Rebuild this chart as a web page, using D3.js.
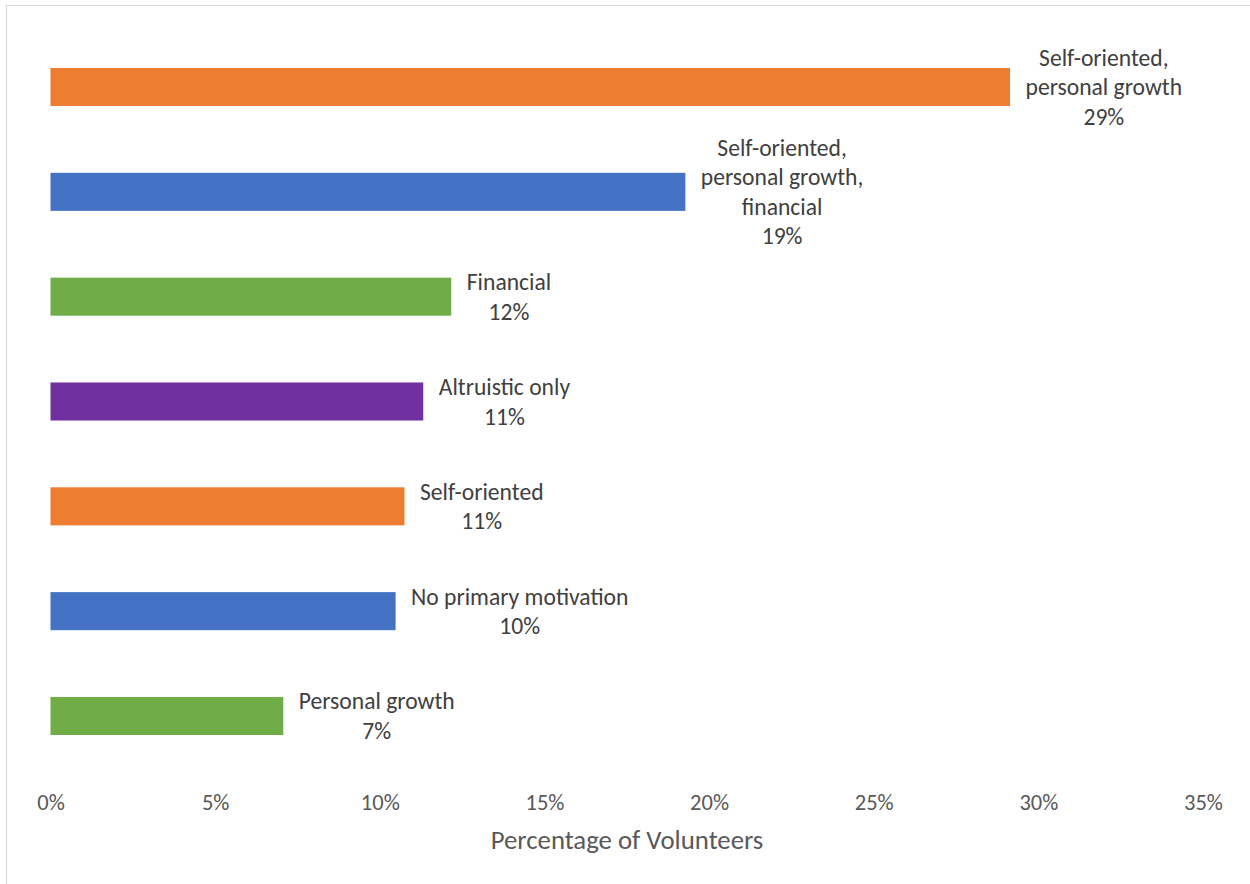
<!DOCTYPE html>
<html>
<head>
<meta charset="utf-8">
<script src="https://cdn.jsdelivr.net/npm/d3@7"></script>
<style>
  html, body { margin: 0; padding: 0; background: #fff; }
  svg { display: block; font-family: Carlito, Calibri, Lato, "Open Sans", sans-serif; }
</style>
</head>
<body>
<svg id="chart" width="1250" height="884"></svg>
<script>
// Motivation categories, top to bottom
const categories = [
  "Self-oriented,\npersonal growth",
  "Self-oriented,\npersonal growth,\nfinancial",
  "Financial",
  "Altruistic only",
  "Self-oriented",
  "No primary motivation",
  "Personal growth"
];
// Share of volunteers for each category
const shares = [0.2914, 0.1928, 0.1217, 0.1132, 0.1075, 0.1048, 0.0707];
const barColors = ["#ED7D31", "#4472C4", "#70AD47", "#7030A0", "#ED7D31", "#4472C4", "#70AD47"];
const tickValues = [0, 0.05, 0.10, 0.15, 0.20, 0.25, 0.30, 0.35];
const axisTitle = "Percentage of Volunteers";

const svg = d3.select("#chart");
const W = 1250, H = 884;

// Chart frame
svg.append("rect")
  .attr("x", 6.5).attr("y", 5.5)
  .attr("width", W + 10).attr("height", H + 10)
  .attr("fill", "#fff").attr("stroke", "#d9d9d9").attr("stroke-width", 1.2);

const x = d3.scaleLinear().domain([0, 0.35]).range([50.5, 1203]);
const y = d3.scaleBand()
  .domain(d3.range(categories.length))
  .range([34.6, 768.4])
  .paddingInner(0.637)
  .paddingOuter(0.3185);

// Bars
svg.append("g").selectAll("rect")
  .data(shares)
  .join("rect")
  .attr("x", x(0))
  .attr("y", (d, i) => y(i))
  .attr("width", d => x(d) - x(0))
  .attr("height", y.bandwidth())
  .attr("fill", (d, i) => barColors[i]);

// Value axis labels (no axis line, no tick marks)
const axis = d3.axisBottom(x)
  .tickValues(tickValues)
  .tickFormat(d3.format(".0%"))
  .tickSize(0)
  .tickPadding(0);
const gAxis = svg.append("g").attr("transform", "translate(0,802)").call(axis);
gAxis.select(".domain").remove();
gAxis.selectAll("text")
  .attr("dy", "0.35em")
  .attr("fill", "#595959")
  .style("font-size", "22.5px")
  .style("font-family", "Carlito, Calibri, Lato, sans-serif");

// Axis title
svg.append("text")
  .attr("x", 627).attr("y", 840).attr("dy", "0.35em")
  .attr("text-anchor", "middle")
  .attr("fill", "#595959")
  .style("font-size", "26.8px")
  .text(axisTitle);

// Data labels: category name + value, centred in a block just past the bar end
const fmt = d3.format(".0%");
const lineH = 29.5;
shares.forEach((v, i) => {
  const lines = categories[i].split("\n").concat([fmt(v)]);
  const g = svg.append("g");
  const texts = g.selectAll("text")
    .data(lines)
    .join("text")
    .attr("fill", "#404040")
    .style("font-size", "23.6px")
    .attr("text-anchor", "middle")
    .attr("dy", "0.35em")
    .text(d => d);
  let maxW = 0;
  texts.each(function () { maxW = Math.max(maxW, this.getComputedTextLength()); });
  const cx = x(v) + 15.5 + maxW / 2;
  const cy = y(i) + y.bandwidth() / 2;
  texts
    .attr("x", cx)
    .attr("y", (d, k) => cy + (k - (lines.length - 1) / 2) * lineH);
});
</script>
</body>
</html>
